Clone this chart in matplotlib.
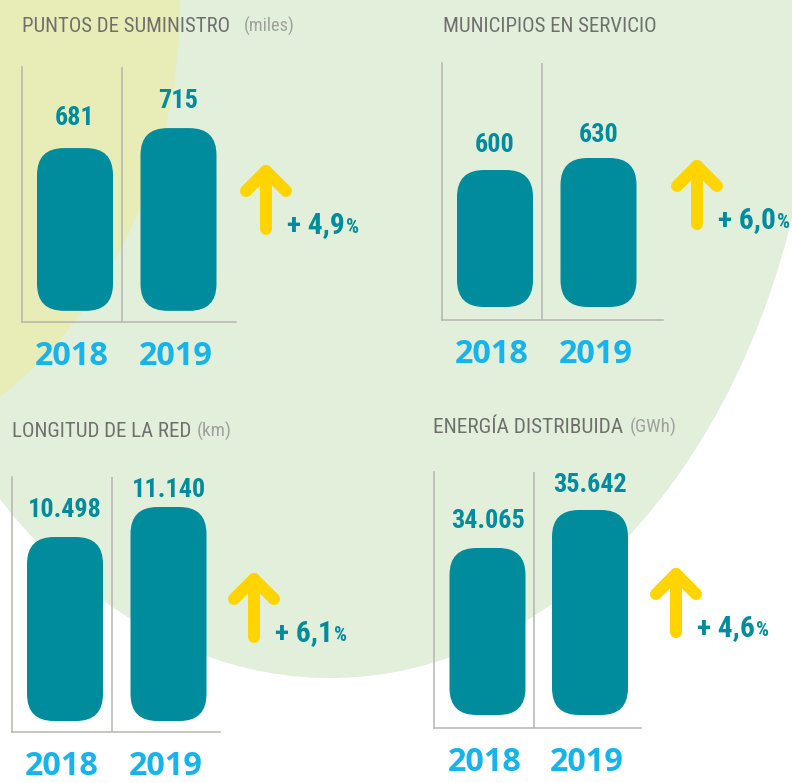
import matplotlib
matplotlib.use("Agg")
import matplotlib.pyplot as plt
from matplotlib.patches import Ellipse, FancyBboxPatch

# ---------------- data ----------------
titles = ["PUNTOS DE SUMINISTRO", "MUNICIPIOS EN SERVICIO", "LONGITUD DE LA RED", "ENERGÍA DISTRIBUIDA"]
units = ["(miles)", "", "(km)", "(GWh)"]
years = ["2018", "2019"]
values_2018 = [681, 600, 10498, 34065]
values_2019 = [715, 630, 11140, 35642]
labels_2018 = ["681", "600", "10.498", "34.065"]
labels_2019 = ["715", "630", "11.140", "35.642"]
changes = ["+ 4,9", "+ 6,0", "+ 6,1", "+ 4,6"]

# ---------------- style / layout (pixels) ----------------
W, H = 792, 783
GREEN = "#e1efdb"
YELLOWBG = "#e8ecb6"
TEAL = "#008c9c"
CYAN = "#16b4ea"
ARROW = "#ffd400"
LINE = "#b5b5b0"
TITLE_C = "#6f6f6e"
UNIT_C = "#a0a09f"

NARROW = ["Liberation Sans Narrow", "Roboto Condensed", "DejaVu Sans Condensed",
          "Open Sans Condensed", "Liberation Sans", "DejaVu Sans"]
YEARF = ["Open Sans", "Lato", "Liberation Sans", "DejaVu Sans"]

frames = [(22, 236, 67, 322), (442, 663, 63, 320), (12, 220, 477, 732), (434, 641, 472, 728)]
bar_centers = [(75, 178.5), (495, 598.5), (65, 168.5), (487.5, 590)]
mid_lines = [122, 542, 112, 534]
ylims = [(385, 819), (225, 867.5), (6326, 11782), (26595, 37218)]
bar_base = [404, 257.5, 6561, 27135]
label_gap = [(23, 20), (18, 16), (20, 10), (20, 18)]
title_pos = [(22, 32), (443, 32), (12, 437), (433, 433)]
title_w = [208, 214, 179, 190]
unit_gap = [14, 0, 6, 7]
unit_w = [51, 0, 35, 47]
arrow_x = [266, 697, 254, 676]
arrow_apex = [171, 166, 579, 574]
BAR_W = 76
RADIUS = 27
PX2PT = 72 / 100

fig = plt.figure(figsize=(W / 100, H / 100), dpi=100)
fig.patch.set_facecolor("white")
bg = fig.add_axes([0, 0, 1, 1])
bg.set_xlim(0, W)
bg.set_ylim(H, 0)
bg.axis("off")
bg.add_patch(Ellipse((330, 0), 976, 1356, facecolor=GREEN, lw=0))
bg.add_patch(Ellipse((-220, 0), 800, 950, facecolor=YELLOWBG, lw=0))

renderer = fig.canvas.get_renderer()


def fit(t, target):
    for _ in range(2):
        w = t.get_window_extent(renderer).width
        t.set_fontsize(t.get_fontsize() * target / w)


value_texts = []
value_targets = []
year_texts = []

for i in range(4):
    L, R, T, B = frames[i]
    c1, c2 = bar_centers[i]
    ylo, yhi = ylims[i]
    xu = 1.0 / (c2 - c1)
    yu = (yhi - ylo) / (B - T)
    ax = fig.add_axes([L / W, 1 - B / H, (R - L) / W, (B - T) / H])
    ax.set_facecolor("none")
    ax.set_xlim((L - c1) * xu, (R - c1) * xu)
    ax.set_ylim(ylo, yhi)
    for s in ["top", "right"]:
        ax.spines[s].set_visible(False)
    for s in ["left", "bottom"]:
        ax.spines[s].set_color(LINE)
        ax.spines[s].set_linewidth(1.1)
    ax.set_xticks([])
    ax.set_yticks([])
    ax.axvline((mid_lines[i] - c1) * xu, color=LINE, lw=1.1)

    vals = [values_2018[i], values_2019[i]]
    labs = [labels_2018[i], labels_2019[i]]
    xs = [0, 1]
    base = bar_base[i]
    bars = ax.bar(xs, [v - base for v in vals], bottom=base, width=BAR_W * xu)
    for rect in bars:
        rect.set_visible(False)
        p = FancyBboxPatch((rect.get_x(), rect.get_y()), rect.get_width(), rect.get_height(),
                           boxstyle=f"round,pad=0,rounding_size={RADIUS * xu}",
                           mutation_aspect=yu / xu, facecolor=TEAL, lw=0)
        ax.add_patch(p)
    for j in range(2):
        t = ax.annotate(labs[j], xy=(xs[j], vals[j]), xytext=(0, label_gap[i][j] * PX2PT),
                        textcoords="offset points", ha="center", va="baseline",
                        fontsize=20, fontweight="bold", color=TEAL, family=NARROW,
                        annotation_clip=False)
        value_texts.append(t)
        value_targets.append(40 if len(labs[j]) == 3 else 73)
        yt = ax.annotate(years[j], xy=(xs[j], ylo), xytext=(-3 * PX2PT, -43 * PX2PT),
                         textcoords="offset points", ha="center", va="baseline",
                         fontsize=23, fontweight="bold", color=CYAN, family=YEARF,
                         annotation_clip=False)
        year_texts.append(yt)

    # title + units
    tx, ty = title_pos[i]
    tt = bg.text(tx, ty, titles[i], ha="left", va="baseline", fontsize=15,
                 color=TITLE_C, family=NARROW)
    fit(tt, title_w[i])
    if units[i]:
        bb = tt.get_window_extent(renderer)
        ut = bg.text(bb.x1 + unit_gap[i], ty, units[i], ha="left", va="baseline",
                     fontsize=11, color=UNIT_C, family=NARROW)
        fit(ut, unit_w[i])

    # arrow
    axx, apex = arrow_x[i], arrow_apex[i]
    bg.plot([axx, axx], [apex, apex + 58], color=ARROW, lw=12 * PX2PT,
            solid_capstyle="round")
    bg.plot([axx - 20, axx, axx + 20], [apex + 20, apex, apex + 20], color=ARROW,
            lw=12 * PX2PT, solid_capstyle="round", solid_joinstyle="round")

    # percent change
    pt = bg.text(axx + 21, apex + 62, changes[i], ha="left", va="baseline",
                 fontsize=17, fontweight="bold", color=TEAL, family=NARROW)
    fit(pt, 58)
    pb = pt.get_window_extent(renderer)
    pc = bg.text(pb.x1 + 1, apex + 62, "%", ha="left", va="baseline", fontsize=11,
                 fontweight="bold", color=TEAL, family=NARROW)
    fit(pc, 13)

# common sizes for values and years
scales = []
for t, tgt in zip(value_texts, value_targets):
    scales.append(tgt / t.get_window_extent(renderer).width)
scales.sort()
s = (scales[3] + scales[4]) / 2
for t in value_texts:
    t.set_fontsize(t.get_fontsize() * s)

ys = 74 / year_texts[0].get_window_extent(renderer).width
for t in year_texts:
    t.set_fontsize(t.get_fontsize() * ys)

fig.savefig("out.png", dpi=100, facecolor="white")
